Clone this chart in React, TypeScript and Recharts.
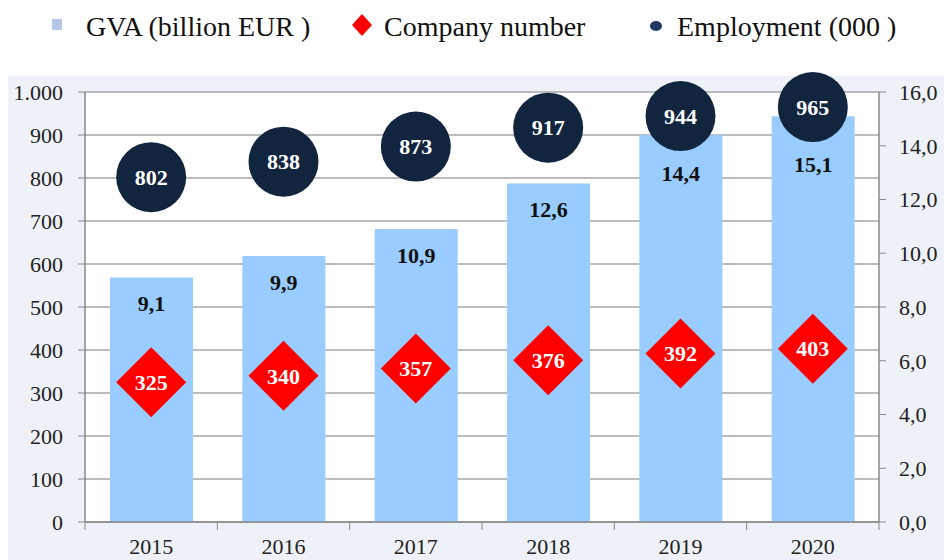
import { ComposedChart, Bar, Line, XAxis, YAxis, CartesianGrid, LabelList } from 'recharts';

const years = ['2015', '2016', '2017', '2018', '2019', '2020'];
const gva = [9.1, 9.9, 10.9, 12.6, 14.4, 15.1];
const companies = [325, 340, 357, 376, 392, 403];
const employment = [802, 838, 873, 917, 944, 965];
const leftTicks = [0, 100, 200, 300, 400, 500, 600, 700, 800, 900, 1000];
const rightTicks = [0, 2, 4, 6, 8, 10, 12, 14, 16];

const chartData = years.map((year, i) => ({
  year,
  gva: gva[i],
  companies: companies[i],
  employment: employment[i],
}));

// plot box (left/right axis widths + top margin)
const PLOT_LEFT = 85;
const PLOT_RIGHT = 879;
const PLOT_TOP = 92;
const PLOT_BOTTOM = 522;
const BAND = (PLOT_RIGHT - PLOT_LEFT) / years.length;

const FONT = '"Liberation Serif", "Times New Roman", serif';

const fmtLeft = (v: number) => (v >= 1000 ? v.toLocaleString('de-DE') : String(v));
const fmtRight = (v: number) => v.toFixed(1).replace('.', ',');

const YearTick = (props: any) => {
  const { x, y, payload, index } = props;
  return (
    <g>
      <line x1={x - BAND / 2} y1={y} x2={x - BAND / 2} y2={y + 8} stroke="#888" />
      {index === years.length - 1 && (
        <line x1={x + BAND / 2} y1={y} x2={x + BAND / 2} y2={y + 8} stroke="#888" />
      )}
      <text x={x} y={y + 32} textAnchor="middle" fontFamily={FONT} fontSize={22} fill="#222">
        {payload.value}
      </text>
    </g>
  );
};

const Diamond = (props: any) => {
  const { cx, cy, value, index } = props;
  if (cx == null || cy == null) return <g key={`d-${index}`} />;
  const r = 35;
  return (
    <g key={`d-${index}`}>
      <polygon points={`${cx},${cy - r} ${cx + r},${cy} ${cx},${cy + r} ${cx - r},${cy}`} fill="#FF0000" />
      <text x={cx} y={cy} dy="0.35em" textAnchor="middle" fontFamily={FONT} fontWeight="bold" fontSize={22} fill="#fff">
        {value}
      </text>
    </g>
  );
};

const Bubble = (props: any) => {
  const { cx, cy, value, index } = props;
  if (cx == null || cy == null) return <g key={`c-${index}`} />;
  return (
    <g key={`c-${index}`}>
      <circle cx={cx} cy={cy} r={35} fill="#12253F" />
      <text x={cx} y={cy} dy="0.35em" textAnchor="middle" fontFamily={FONT} fontWeight="bold" fontSize={22} fill="#fff">
        {value}
      </text>
    </g>
  );
};

// GVA label sits under the bar top, pushed below the employment circle when they collide
const GvaLabel = (props: any) => {
  const { x, y, width, value, index } = props;
  const circleY = PLOT_TOP + (PLOT_BOTTOM - PLOT_TOP) * (1 - employment[index] / 1000);
  const cy = Math.max(y + 26, circleY + 57);
  return (
    <text x={x + width / 2} y={cy} dy="0.35em" textAnchor="middle" fontFamily={FONT} fontWeight="bold" fontSize={22} fill="#111">
      {fmtRight(value)}
    </text>
  );
};

const legendText = { position: 'absolute' as const, top: 11, fontFamily: FONT, fontSize: 28, color: '#111', whiteSpace: 'nowrap' as const };

export default function App() {
  return (
    <div style={{ position: 'absolute', left: 0, top: 0, width: 944, height: 560, background: '#fff', overflow: 'hidden' }}>
      <div style={{ position: 'absolute', left: 8, top: 76, width: 936, height: 484, background: '#EEF2F8' }} />

      <div style={{ position: 'absolute', left: 52, top: 19, width: 10, height: 11, background: '#B4C7E7' }} />
      <div style={{ ...legendText, left: 86 }}>GVA (billion EUR )</div>
      <svg style={{ position: 'absolute', left: 350, top: 12 }} width={24} height={26}>
        <polygon points="12,2 22,13 12,24 2,13" fill="#FF0000" />
      </svg>
      <div style={{ ...legendText, left: 384 }}>Company number</div>
      <svg style={{ position: 'absolute', left: 648, top: 19 }} width={16} height={14}>
        <ellipse cx={8} cy={7} rx={6} ry={5} fill="#203864" />
      </svg>
      <div style={{ ...legendText, left: 677 }}>Employment (000 )</div>

      <div style={{ position: 'absolute', left: 0, top: 0 }}>
        <ComposedChart width={944} height={560} data={chartData} margin={{ top: PLOT_TOP, right: 0, bottom: 0, left: 0 }}>
          <CartesianGrid yAxisId="left" vertical={false} stroke="#A6A6A6" strokeWidth={1.5} fill="#fff" />
          <XAxis
            dataKey="year"
            height={560 - PLOT_BOTTOM}
            axisLine={{ stroke: '#888', strokeWidth: 1.5 }}
            tickLine={false}
            tickSize={0}
            tickMargin={0}
            tick={<YearTick />}
            interval={0}
          />
          <YAxis
            yAxisId="left"
            width={PLOT_LEFT}
            domain={[0, 1000]}
            ticks={leftTicks}
            tickFormatter={fmtLeft}
            axisLine={{ stroke: '#888', strokeWidth: 1.5 }}
            tickLine={{ stroke: '#888' }}
            tickSize={7}
            tickMargin={15}
            tick={{ fontFamily: FONT, fontSize: 22, fill: '#222' }}
            interval={0}
          />
          <YAxis
            yAxisId="right"
            orientation="right"
            width={944 - PLOT_RIGHT}
            domain={[0, 16]}
            ticks={rightTicks}
            tickFormatter={fmtRight}
            axisLine={{ stroke: '#888', strokeWidth: 1.5 }}
            tickLine={{ stroke: '#888' }}
            tickSize={7}
            tickMargin={13}
            tick={{ fontFamily: FONT, fontSize: 22, fill: '#222', textAnchor: 'start' }}
            interval={0}
          />
          <Bar yAxisId="right" dataKey="gva" fill="#99CCFF" barSize={83} isAnimationActive={false}>
            <LabelList dataKey="gva" content={<GvaLabel />} />
          </Bar>
          <Line yAxisId="left" dataKey="companies" stroke="none" dot={Diamond} activeDot={false} isAnimationActive={false} />
          <Line yAxisId="left" dataKey="employment" stroke="none" dot={Bubble} activeDot={false} isAnimationActive={false} />
        </ComposedChart>
      </div>
    </div>
  );
}
